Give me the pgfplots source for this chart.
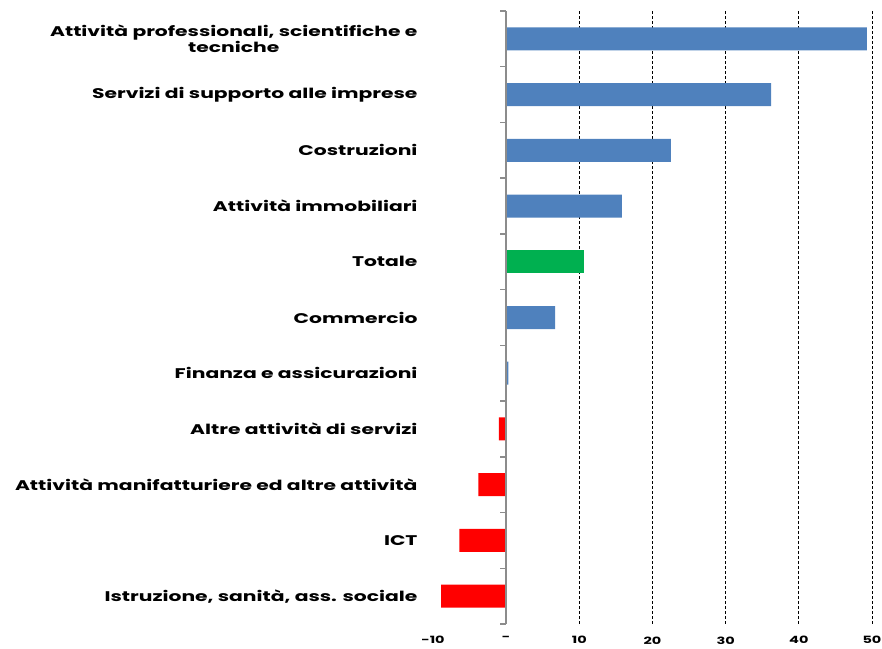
\documentclass[border=0pt]{standalone}
\usepackage{fontspec}
\setmainfont{Poppins}[FakeStretch=1.45]
\usepackage{pgfplots}
\pgfplotsset{compat=1.18}
\definecolor{barblue}{HTML}{4F81BD}
\definecolor{bargreen}{HTML}{00B050}
\definecolor{barred}{HTML}{FF0000}
\definecolor{axgray}{HTML}{8C8C8C}
\begin{document}
\begin{tikzpicture}[x=1pt,y=1pt]
\useasboundingbox (0,0) rectangle (882,648);
\begin{axis}[at={(433pt,24pt)}, anchor=south west, scale only axis,
  width=439pt, height=613pt,
  xmin=-10, xmax=50, ymin=-0.5, ymax=10.5, y dir=reverse,
  axis line style={draw=none},
  major tick length=0pt,
  xtick={10,20,30,40,50},
  xticklabels={10,20,30,40,50},
  extra x ticks={-10,0},
  extra x tick labels={-10,-},
  extra x tick style={grid=none},
  xmajorgrids,
  grid style={black, dash pattern=on 3pt off 2pt, line width=0.8pt},
  xticklabel style={font=\bfseries\fontsize{10}{12}\selectfont, yshift=-9pt},
  /pgf/number format/assume math mode=true,
  ytick={0,...,10},
  yticklabels={{Attività professionali, scientifiche e\\tecniche},
    {Servizi di supporto alle imprese},
    {Costruzioni},
    {Attività immobiliari},
    {Totale},
    {Commercio},
    {Finanza e assicurazioni},
    {Altre attività di servizi},
    {Attività manifatturiere ed altre attività},
    {ICT},
    {Istruzione, sanità, ass. sociale}},
  yticklabel style={align=center, font=\bfseries\fontsize{14}{14}\selectfont, xshift=-12pt},
  clip=false,
]
\addplot[xbar, bar width=23pt, bar shift=0pt, fill=barblue, draw=none]
  coordinates {(49.3,0) (36.2,1) (22.5,2) (15.8,3) (6.7,5) (0.3,6)};
\addplot[xbar, bar width=23pt, bar shift=0pt, fill=bargreen, draw=none]
  coordinates {(10.7,4)};
\addplot[xbar, bar width=23pt, bar shift=0pt, fill=barred, draw=none]
  coordinates {(-1.0,7) (-3.8,8) (-6.4,9) (-8.9,10)};
\draw[axgray, line width=2pt] (axis cs:0,-0.5) -- (axis cs:0,10.5);
\pgfplotsinvokeforeach{-0.5,0.5,1.5,2.5,3.5,4.5,5.5,6.5,7.5,8.5,9.5,10.5}{
  \draw[axgray, line width=1.5pt] ([xshift=-6pt]axis cs:0,#1) -- (axis cs:0,#1);
}
\end{axis}
\end{tikzpicture}
\end{document}
